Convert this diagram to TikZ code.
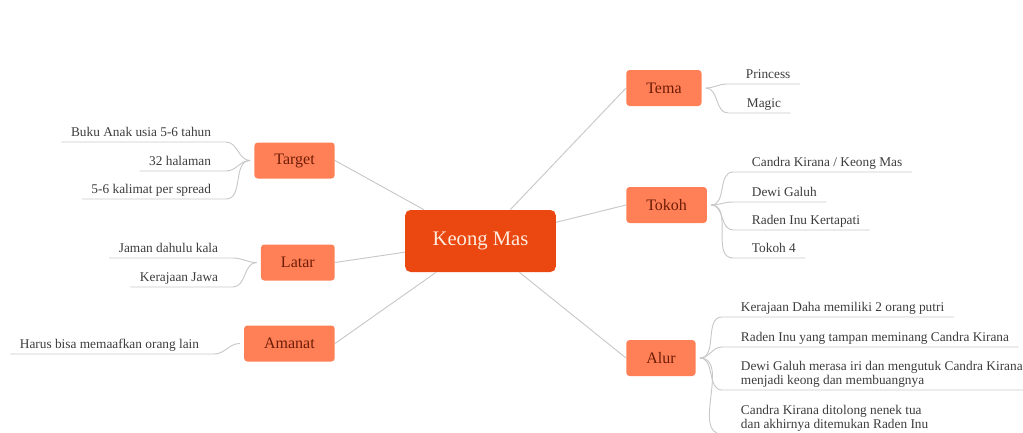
\documentclass[tikz,border=0pt]{standalone}
\usepackage{fontspec}
\setmainfont{Liberation Serif}
\usetikzlibrary{positioning}

\definecolor{rootfill}{RGB}{234,72,16}
\definecolor{rootink}{RGB}{255,236,222}
\definecolor{topicfill}{RGB}{255,128,86}
\definecolor{topicink}{RGB}{110,28,6}
\definecolor{leafink}{RGB}{60,60,60}
\definecolor{linegray}{RGB}{200,200,200}

\tikzset{
  root/.style={fill=rootfill, text=rootink, rounded corners=4pt,
    minimum width=113pt, minimum height=46.5pt,
    font=\fontsize{15.5}{18}\selectfont},
  topic/.style={fill=topicfill, text=topicink, rounded corners=2.5pt,
    inner xsep=15pt, minimum height=27pt,
    font=\fontsize{12}{14}\selectfont},
  leaf/.style={text=leafink, inner xsep=7pt, inner ysep=0.9pt,
    font=\fontsize{10}{10.5}\selectfont, execute at begin node=\strut},
  trunk/.style={draw=linegray, line width=0.7pt},
  twig/.style={draw=linegray, line width=0.7pt},
}

\begin{document}
\begin{tikzpicture}[x=0.75pt, y=-0.75pt]
    \useasboundingbox (0,0) rectangle (1023,432);
    \clip (0,0) rectangle (1023,432);

    \node[root] (kmas) at (480.5,241) {Keong Mas};

    \node[topic, anchor=east] (target) at (335,160.5) {Target};
    \node[topic, anchor=east] (latar) at (335,262.5) {Latar};
    \node[topic, anchor=east] (amanat) at (335,343.5) {Amanat};
    \node[topic, anchor=west] (tema) at (626,88) {Tema};
    \node[topic, anchor=west] (tokoh) at (626,205) {Tokoh};
    \node[topic, anchor=west] (alur) at (626,358) {Alur};

    \foreach \t/\a in {target/east, latar/east, amanat/east, tema/west, tokoh/west, alur/west}
        \draw[trunk] (kmas) -- (\t.\a);

    \coordinate (u-buku) at (226,142);
    \coordinate (u-halaman) at (226,171);
    \coordinate (u-kalimat) at (226,199);
    \coordinate (u-jaman) at (233,258);
    \coordinate (u-kerajaan) at (233,287);
    \coordinate (u-harus) at (214,354);

    \node[leaf, above left=0pt and 4pt of u-buku] (buku) {Buku Anak usia 5-6 tahun};
    \node[leaf, above left=0pt and 4pt of u-halaman] (halaman) {32 halaman};
    \node[leaf, above left=0pt and 4pt of u-kalimat] (kalimat) {5-6 kalimat per spread};
    \node[leaf, above left=0pt and 4pt of u-jaman] (jaman) {Jaman dahulu kala};
    \node[leaf, above left=0pt and 4pt of u-kerajaan] (kerajaan) {Kerajaan Jawa};
    \node[leaf, above left=0pt and 4pt of u-harus] (harus) {Harus bisa memaafkan orang lain};

    \foreach \l in {buku, halaman, kalimat}
        \draw[twig] ([xshift=-3pt]target.west) to[out=180, in=0] (u-\l) -- (\l.south west);
    \foreach \l in {jaman, kerajaan}
        \draw[twig] ([xshift=-3pt]latar.west) to[out=180, in=0] (u-\l) -- (\l.south west);
    \draw[twig] ([xshift=-3pt]amanat.west) to[out=180, in=0] (u-harus) -- (harus.south west);

    \coordinate (u-princess) at (727,84);
    \coordinate (u-magic) at (728,113);
    \coordinate (u-candra) at (733,172);
    \coordinate (u-dewi) at (733,202);
    \coordinate (u-raden) at (733,230);
    \coordinate (u-tokohempat) at (733,258);
    \coordinate (u-daha) at (722,317);
    \coordinate (u-pinang) at (722,347);
    \coordinate (u-kutuk) at (722,390);
    \coordinate (u-tolong) at (722,434);

    \node[leaf, above right=0pt and 7pt of u-princess] (princess) {Princess};
    \node[leaf, above right=0pt and 7pt of u-magic] (magic) {Magic};
    \node[leaf, above right=0pt and 7pt of u-candra] (candra) {Candra Kirana / Keong Mas};
    \node[leaf, above right=0pt and 7pt of u-dewi] (dewi) {Dewi Galuh};
    \node[leaf, above right=0pt and 7pt of u-raden] (raden) {Raden Inu Kertapati};
    \node[leaf, above right=0pt and 7pt of u-tokohempat] (tokohempat) {Tokoh 4};
    \node[leaf, above right=0pt and 7pt of u-daha] (daha) {Kerajaan Daha memiliki 2 orang putri};
    \node[leaf, above right=0pt and 7pt of u-pinang] (pinang) {Raden Inu yang tampan meminang Candra Kirana};
    \node[leaf, align=left, above right=0pt and 7pt of u-kutuk] (kutuk)
        {Dewi Galuh merasa iri dan mengutuk Candra Kirana\\menjadi keong dan membuangnya};
    \node[leaf, align=left, above right=0pt and 7pt of u-tolong] (tolong)
        {Candra Kirana ditolong nenek tua\\dan akhirnya ditemukan Raden Inu};

    \foreach \l in {princess, magic}
        \draw[twig] ([xshift=3pt]tema.east) to[out=0, in=180] (u-\l) -- (\l.south east);
    \foreach \l in {candra, dewi, raden, tokohempat}
        \draw[twig] ([xshift=3pt]tokoh.east) to[out=0, in=180] (u-\l) -- (\l.south east);
    \foreach \l in {daha, pinang, kutuk, tolong}
        \draw[twig] ([xshift=3pt]alur.east) to[out=0, in=180] (u-\l) -- (\l.south east);
\end{tikzpicture}
\end{document}
